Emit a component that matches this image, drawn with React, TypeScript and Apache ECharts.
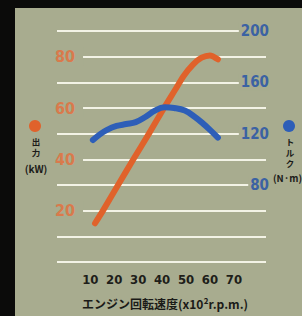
import React, { useEffect, useRef } from "react";
import * as echarts from "echarts";

// engine speed (x100 rpm) vs output power (kW)
const powerRpm = [12.0, 15.3, 21.6, 28.0, 34.5, 40.8, 45.4, 49.0, 53.0, 56.5, 60.0, 63.3];
const powerKw = [15.1, 20.0, 30.0, 40.0, 50.0, 60.0, 67.0, 72.5, 77.0, 79.6, 80.5, 79.0];
// engine speed (x100 rpm) vs torque (N·m)
const torqueRpm = [11.1, 14.0, 17.0, 21.0, 25.0, 29.0, 33.0, 37.0, 41.0, 45.0, 49.5, 53.7, 57.0, 60.0, 63.3];
const torqueNm = [115.0, 119.5, 123.0, 126.0, 127.5, 129.0, 133.0, 138.0, 140.5, 140.0, 138.0, 133.0, 128.0, 123.0, 117.0];

const xTickLabels = [10, 20, 30, 40, 50, 60, 70];
const leftTickLabels = [20, 40, 60, 80];
const rightTickLabels = [80, 120, 160, 200];

const PANEL = "#a8ac8f";
const GRIDLINE = "#f3f3e6";
const ORANGE = "#e0622b";
const BLUE = "#2d5eb8";
const INK = "#1b1b18";
const NUMFONT = "'DejaVu Sans Condensed', 'DejaVu Sans', sans-serif";
const JPFONT = "'Noto Sans CJK JP', 'Noto Sans', sans-serif";

function label(text: string, x: number, y: number, size: number, align = "center") {
  return {
    type: "text",
    x,
    y,
    style: {
      text,
      align,
      verticalAlign: "middle",
      fontFamily: JPFONT,
      fontWeight: "bold",
      fontSize: size,
      lineHeight: size,
      fill: INK,
    },
  };
}

export default function App() {
  const ref = useRef<HTMLDivElement>(null);
  useEffect(() => {
    if (!ref.current) return;
    const chart = echarts.init(ref.current, null, { renderer: "svg" });
    chart.setOption({
      animation: false,
      backgroundColor: "#0b0b0a",
      grid: { left: 57, right: 36, top: 31, bottom: 54 },
      xAxis: {
        type: "value",
        min: -3.9,
        max: 83.4,
        axisLine: { show: false },
        axisTick: { show: false },
        splitLine: { show: false },
        axisLabel: {
          customValues: xTickLabels,
          margin: 11,
          fontFamily: NUMFONT,
          fontWeight: "bold",
          fontSize: 13,
          color: "#1e1e1a",
        },
      },
      yAxis: [
        {
          type: "value",
          position: "left",
          min: 0,
          max: 90,
          interval: 10,
          z: 5,
          axisLine: { show: false },
          axisTick: { show: false },
          splitLine: { show: false },
          axisLabel: {
            customValues: leftTickLabels,
            inside: true,
            margin: -2,
            padding: [1, 8, 1, 0],
            backgroundColor: PANEL,
            fontFamily: NUMFONT,
            fontWeight: "bold",
            fontSize: 16,
            color: "#d97a4c",
          },
        },
        {
          type: "value",
          position: "right",
          min: 20,
          max: 200,
          interval: 20,
          z: 5,
          axisLine: { show: false },
          axisTick: { show: false },
          splitLine: { show: false },
          axisLabel: {
            customValues: rightTickLabels,
            inside: true,
            margin: -3,
            padding: [1, 0, 1, 2],
            backgroundColor: PANEL,
            fontFamily: NUMFONT,
            fontWeight: "bold",
            fontSize: 15,
            color: "#3b62a3",
          },
        },
        {
          type: "value",
          position: "left",
          min: 0,
          max: 90,
          interval: 10,
          z: 0,
          axisLine: { show: false },
          axisTick: { show: false },
          axisLabel: { show: false },
          splitLine: { show: true, lineStyle: { color: GRIDLINE, width: 2 } },
        },
      ],
      graphic: [
        {
          type: "rect",
          z: -10,
          shape: { x: 15, y: 8, width: 287, height: 308 },
          style: { fill: PANEL },
        },
        { type: "circle", shape: { cx: 35, cy: 126, r: 6 }, style: { fill: ORANGE } },
        label("出", 36, 141, 8.5),
        label("力", 36, 152, 8.5),
        label("(kW)", 36, 168, 10),
        { type: "circle", shape: { cx: 289, cy: 126, r: 6 }, style: { fill: BLUE } },
        label("ト", 290, 141, 8.5),
        label("ル", 290, 152, 8.5),
        label("ク", 290, 163, 8.5),
        label("(N·m)", 273, 178, 9.5, "left"),
        label("エンジン回転速度(x10²r.p.m.)", 82, 303, 12, "left"),
      ],
      series: [
        {
          type: "line",
          yAxisIndex: 0,
          data: powerRpm.map((r, i) => [r, powerKw[i]]),
          smooth: 0.25,
          symbol: "none",
          lineStyle: { color: ORANGE, width: 6, cap: "round", join: "round" },
        },
        {
          type: "line",
          yAxisIndex: 1,
          data: torqueRpm.map((r, i) => [r, torqueNm[i]]),
          smooth: 0.4,
          symbol: "none",
          lineStyle: { color: BLUE, width: 6, cap: "round", join: "round" },
        },
      ],
    });
    return () => chart.dispose();
  }, []);
  return (
    <div
      ref={ref}
      style={{ position: "absolute", left: 0, top: 0, width: 302, height: 316 }}
    />
  );
}
